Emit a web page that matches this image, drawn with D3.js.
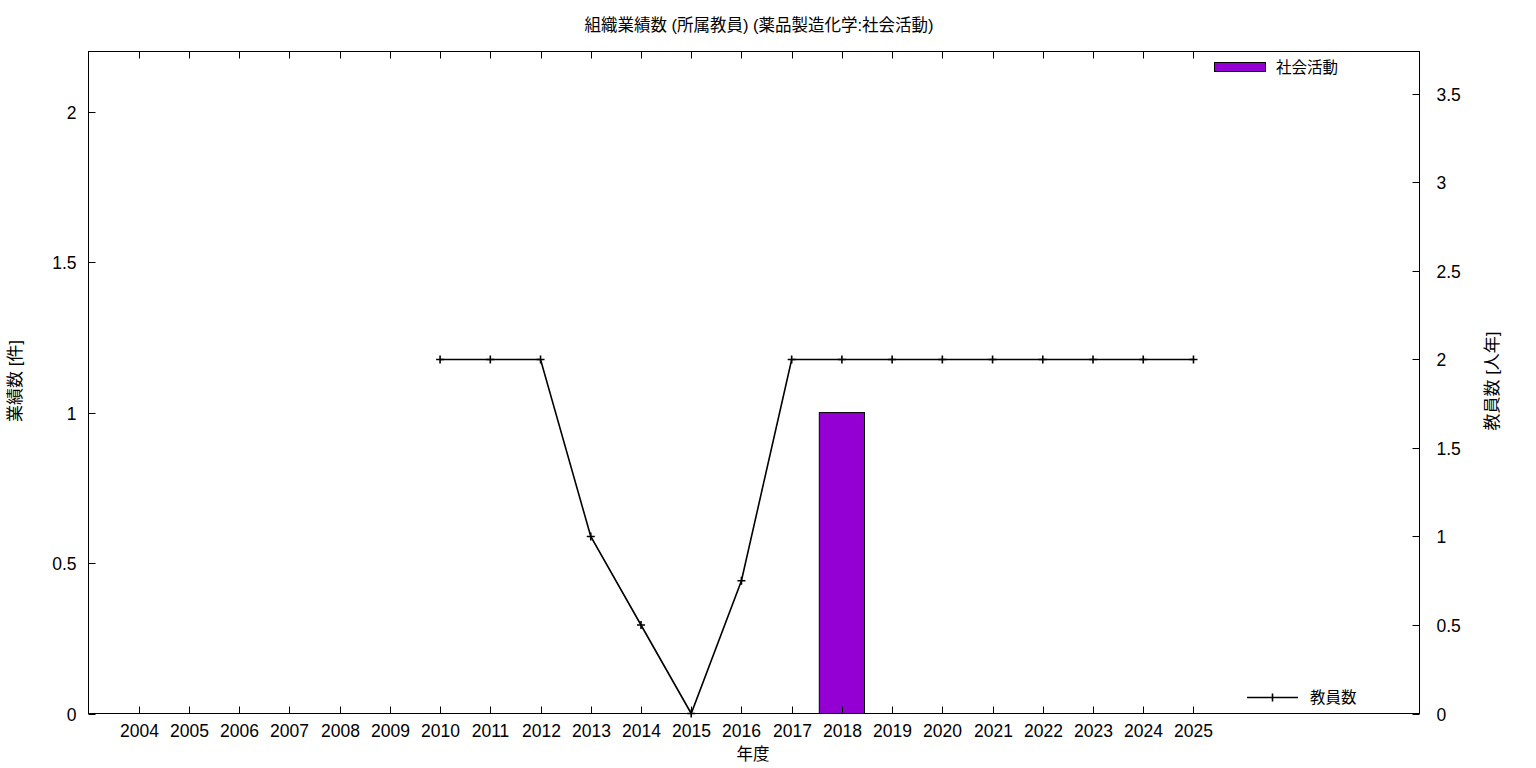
<!DOCTYPE html>
<html><head><meta charset="utf-8">
<script src="https://cdn.jsdelivr.net/npm/d3@7"></script>
<style>body{margin:0;background:#fff}svg{display:block}text{font-family:"Liberation Sans","Noto Sans CJK JP",sans-serif;fill:#000}</style>
</head><body><svg id="c" width="1536" height="768"></svg>
<script>
const years = [2004,2005,2006,2007,2008,2009,2010,2011,2012,2013,2014,2015,2016,2017,2018,2019,2020,2021,2022,2023,2024,2025];
const barYears = [2018];
const barValues = [1];
const staffYears = [2010,2011,2012,2013,2014,2015,2016,2017,2018,2019,2020,2021,2022,2023,2024,2025];
const staffValues = [2,2,2,1,0.5,0,0.75,2,2,2,2,2,2,2,2,2];
const leftTicks = [0,0.5,1,1.5,2];
const rightTicks = [0,0.5,1,1.5,2,2.5,3,3.5];
const title = "組織業績数 (所属教員) (薬品製造化学:社会活動)";
const barLabel = "社会活動", lineLabel = "教員数";
const xLabel = "年度", yLabel = "業績数 [件]", y2Label = "教員数 [人年]";

const svg = d3.select("#c");
const L=88.5, R=1419.5, T=51.5, B=713.5;
const x = d3.scaleLinear().domain([2003,2029.5]).range([L,R]);
const y = d3.scaleLinear().domain([0,2.2]).range([B,T]);
const y2 = d3.scaleLinear().domain([0,3.74]).range([B,T]);
const tl = 7;

svg.selectAll("rect.bar").data(barYears).join("rect")
  .attr("x",(d)=>x(d-0.45)).attr("width",x(2003.9)-x(2003))
  .attr("y",(d,i)=>y(barValues[i])).attr("height",(d,i)=>y(0)-y(barValues[i]))
  .attr("fill","#9400d3").attr("stroke","#000").attr("stroke-width",1);

svg.append("rect").attr("x",L).attr("y",T).attr("width",R-L).attr("height",B-T)
  .attr("fill","none").attr("stroke","#000").attr("stroke-width",1);

const gx = svg.append("g");
years.forEach(v=>{
  const px = Math.round(x(v))+0.5;
  gx.append("line").attr("x1",px).attr("x2",px).attr("y1",B).attr("y2",B-tl).attr("stroke","#000");
  gx.append("line").attr("x1",px).attr("x2",px).attr("y1",T).attr("y2",T+tl).attr("stroke","#000");
  gx.append("text").attr("x",px).attr("y",B+23).attr("text-anchor","middle").attr("font-size",17.5).text(v);
});
leftTicks.forEach(v=>{
  const py = Math.round(y(v))+0.5;
  svg.append("line").attr("x1",L).attr("x2",L+tl).attr("y1",py).attr("y2",py).attr("stroke","#000");
  svg.append("text").attr("x",L-12).attr("y",py+6).attr("text-anchor","end").attr("font-size",17.5).text(v);
});
rightTicks.forEach(v=>{
  const py = Math.round(y2(v))+0.5;
  svg.append("line").attr("x1",R).attr("x2",R-tl).attr("y1",py).attr("y2",py).attr("stroke","#000");
  svg.append("text").attr("x",R+17).attr("y",py+6).attr("text-anchor","start").attr("font-size",17.5).text(v);
});

const line = d3.line().x((d,i)=>x(staffYears[i])).y(d=>y2(d));
svg.append("path").datum(staffValues).attr("d",line).attr("fill","none").attr("stroke","#000").attr("stroke-width",1.6);
staffValues.forEach((v,i)=>{
  const px=x(staffYears[i]), py=y2(v);
  svg.append("path").attr("d",`M${px-4},${py}H${px+4}M${px},${py-4}V${py+4}`).attr("stroke","#000").attr("stroke-width",1.6);
});

svg.append("text").attr("x",759).attr("y",31).attr("text-anchor","middle").attr("font-size",16.5).text(title);
svg.append("text").attr("x",753).attr("y",760).attr("text-anchor","middle").attr("font-size",16.5).text(xLabel);
svg.append("text").attr("transform","translate(21,381) rotate(-90)").attr("text-anchor","middle").attr("font-size",17).text(yLabel);
svg.append("text").attr("transform","translate(1498,381) rotate(-90)").attr("text-anchor","middle").attr("font-size",17).text(y2Label);

svg.append("rect").attr("x",1214.5).attr("y",62.5).attr("width",51).attr("height",9).attr("fill","#9400d3").attr("stroke","#000");
svg.append("text").attr("x",1276).attr("y",73).attr("font-size",15.5).text(barLabel);
svg.append("line").attr("x1",1247).attr("x2",1298).attr("y1",697.5).attr("y2",697.5).attr("stroke","#000").attr("stroke-width",1.6);
svg.append("path").attr("d","M1272.5,693.5V701.5").attr("stroke","#000").attr("stroke-width",1.6);
svg.append("text").attr("x",1310).attr("y",703).attr("font-size",15.5).text(lineLabel);
</script></body></html>
